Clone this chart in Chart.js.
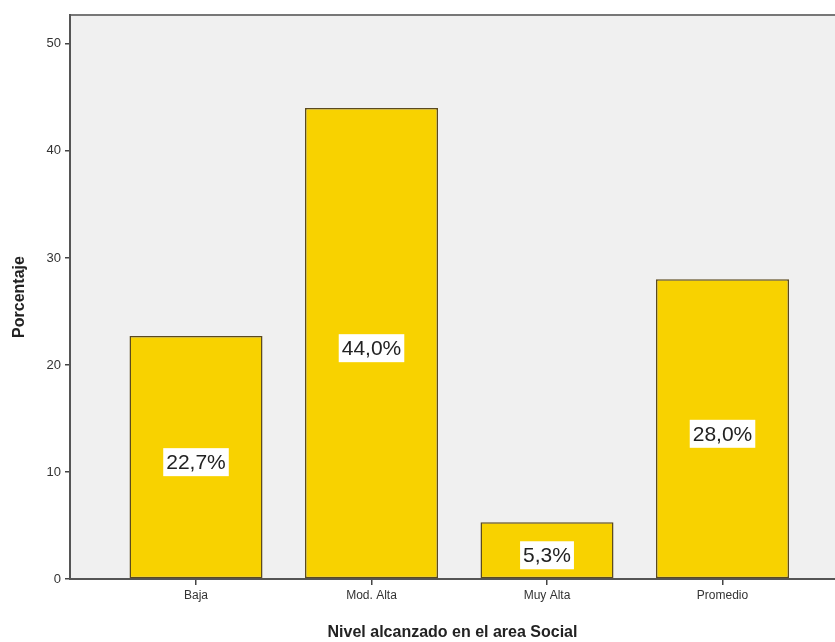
<!DOCTYPE html>
<html>
<head>
<meta charset="utf-8">
<script src="https://cdn.jsdelivr.net/npm/chart.js@4/dist/chart.umd.min.js"></script>
<style>
  html, body { margin: 0; padding: 0; background: #fff; overflow: hidden; }
</style>
</head>
<body>
<canvas id="chart" width="835" height="642"></canvas>
<script>
const categories = ["Baja", "Mod. Alta", "Muy Alta", "Promedio"];
const percentages = [22.7, 44.0, 5.3, 28.0];
const valueLabels = ["22,7%", "44,0%", "5,3%", "28,0%"];
const yTicks = [0, 10, 20, 30, 40, 50];

// plot background + top border like SPSS
const plotFrame = {
  id: "plotFrame",
  beforeDraw(chart) {
    const { ctx, chartArea: a } = chart;
    ctx.save();
    ctx.fillStyle = "#f0f0f0";
    ctx.fillRect(a.left, a.top, a.right - a.left, a.bottom - a.top);
    ctx.strokeStyle = "#777";
    ctx.lineWidth = 2;
    ctx.beginPath();
    ctx.moveTo(a.left, a.top);
    ctx.lineTo(a.right, a.top);
    ctx.stroke();
    ctx.restore();
  }
};

// value labels in white boxes at bar middle
const boxLabels = {
  id: "boxLabels",
  afterDatasetsDraw(chart) {
    const { ctx } = chart;
    const meta = chart.getDatasetMeta(0);
    ctx.save();
    ctx.font = "21px 'Liberation Sans', Arial, sans-serif";
    ctx.textAlign = "center";
    ctx.textBaseline = "middle";
    meta.data.forEach((bar, i) => {
      const text = valueLabels[i];
      const y = (bar.y + bar.base) / 2 + 5;
      const w = ctx.measureText(text).width + 6;
      ctx.fillStyle = "#fff";
      ctx.fillRect(bar.x - w / 2, y - 14, w, 28);
      ctx.fillStyle = "#222";
      ctx.fillText(text, bar.x, y + 1);
    });
    ctx.restore();
  }
};

new Chart(document.getElementById("chart"), {
  type: "bar",
  data: {
    datasets: [{
      data: percentages.map((v, i) => ({ x: i, y: v })),
      backgroundColor: "#f8d200",
      borderColor: "#5b4a1e",
      borderWidth: 1.5,
      borderSkipped: false,
      barPercentage: 0.758,
      categoryPercentage: 1
    }]
  },
  options: {
    responsive: false,
    animation: false,
    layout: { padding: { top: 15, right: 0, left: 0, bottom: 0 } },
    plugins: { legend: { display: false }, tooltip: { enabled: false } },
    scales: {
      x: {
        type: "linear",
        min: -0.718,
        max: 3.641,
        offset: false,
        afterFit: s => { s.height = 63; },
        afterBuildTicks: s => { s.ticks = categories.map((c, i) => ({ value: i })); },
        grid: { display: true, drawOnChartArea: false, offset: false, tickLength: 6, color: "#444", lineWidth: 1.5 },
        border: { display: true, color: "#555", width: 2 },
        ticks: {
          color: "#333", padding: 3,
          callback: v => categories[v],
          font: { size: 12, family: "'Liberation Sans', Arial, sans-serif" }
        },
        title: {
          display: true,
          text: "Nivel alcanzado en el area Social",
          color: "#222",
          padding: { top: 4, bottom: 0 },
          font: { size: 16, weight: "bold", family: "'Liberation Sans', Arial, sans-serif" }
        }
      },
      y: {
        min: 0,
        max: 52.7,
        afterFit: s => { s.width = 70; },
        afterBuildTicks: s => { s.ticks = yTicks.map(v => ({ value: v })); },
        grid: { display: true, drawOnChartArea: false, tickLength: 5, color: "#444", lineWidth: 1.5 },
        border: { display: true, color: "#555", width: 2 },
        ticks: { color: "#333", padding: 4, font: { size: 13, family: "'Liberation Sans', Arial, sans-serif" } },
        title: {
          display: true,
          text: "Porcentaje",
          color: "#222",
          padding: { top: 10, bottom: 0 },
          font: { size: 16, weight: "bold", family: "'Liberation Sans', Arial, sans-serif" }
        }
      }
    }
  },
  plugins: [plotFrame, boxLabels]
});
</script>
</body>
</html>
